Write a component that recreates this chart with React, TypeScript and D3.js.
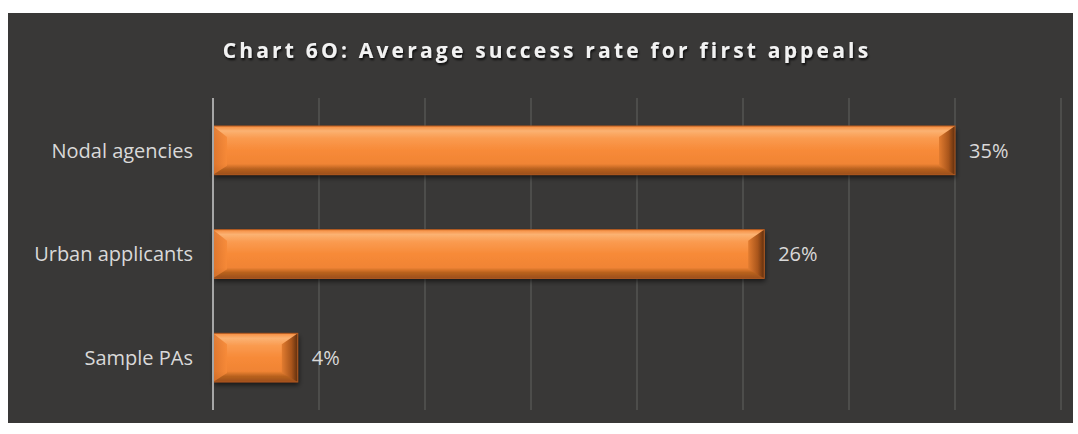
import React from "react";
import * as d3 from "d3";

const categories = ["Nodal agencies", "Urban applicants", "Sample PAs"];
const values = [35, 26, 4];
const tickValues = [0, 5, 10, 15, 20, 25, 30, 35, 40];
const title = "Chart 6O: Average success rate for first appeals";

const W = 1078, H = 434;
const bg = { x: 8, y: 13, w: 1065, h: 410 };
const plot = { left: 213, right: 1061, top: 98, bottom: 410 };
const font = "'Open Sans', sans-serif";

export default function App() {
  const x = d3.scaleLinear().domain([0, 40]).range([plot.left, plot.right]);
  const y = d3.scaleBand<string>().domain(categories).range([plot.top, plot.bottom]).paddingInner(0.53).paddingOuter(0.27);
  const bh = y.bandwidth();
  return (
    <svg width={W} height={H} style={{ position: "absolute", left: 0, top: 0 }}>
      <defs>
        <linearGradient id="face" x1="0" y1="0" x2="0" y2="1">
          <stop offset="0" stopColor="#f68c3e" />
          <stop offset="0.1" stopColor="#fbb272" />
          <stop offset="0.25" stopColor="#fa9b50" />
          <stop offset="0.5" stopColor="#f78a38" />
          <stop offset="0.78" stopColor="#f08434" />
          <stop offset="0.88" stopColor="#b9621f" />
          <stop offset="1" stopColor="#9a4e1a" />
        </linearGradient>
        <linearGradient id="rightBev" x1="0" y1="0" x2="1" y2="0">
          <stop offset="0" stopColor="#e27c30" />
          <stop offset="0.6" stopColor="#a9551b" />
          <stop offset="1" stopColor="#5e2e0e" />
        </linearGradient>
        <linearGradient id="leftBev" x1="0" y1="0" x2="1" y2="0">
          <stop offset="0" stopColor="#d9722c" />
          <stop offset="1" stopColor="#f78a38" />
        </linearGradient>
        <filter id="shadow" x="-10%" y="-30%" width="130%" height="180%">
          <feDropShadow dx="1" dy="3" stdDeviation="2.5" floodColor="#000" floodOpacity="0.6" />
        </filter>
        <filter id="tshadow" x="-5%" y="-50%" width="110%" height="200%">
          <feDropShadow dx="1" dy="2" stdDeviation="1.2" floodColor="#000" floodOpacity="0.8" />
        </filter>
      </defs>
      <rect x={bg.x} y={bg.y} width={bg.w} height={bg.h} fill="#393837" />
      <text x={547} y={58} textAnchor="middle" fill="#f2f2f2" fontFamily={font} fontWeight="bold" fontSize={21} letterSpacing={3.2} filter="url(#tshadow)">{title}</text>
      {tickValues.slice(1).map(t => (
        <line key={t} x1={x(t)} x2={x(t)} y1={plot.top} y2={plot.bottom} stroke="#555453" strokeWidth={1.5} />
      ))}
      {categories.map((c, i) => {
        const x0 = x(0), x1 = x(values[i]);
        const y0 = y(c)!, y1 = y0 + bh;
        const w = x1 - x0;
        const bl = Math.min(14, w / 2);
        const br = Math.min(16, w / 2);
        const bt = 11, bb = 9;
        return (
          <g key={c}>
            <rect x={x0} y={y0} width={w} height={bh} fill="url(#face)" filter="url(#shadow)" />
            <polygon points={`${x0},${y0} ${x0 + bl},${y0 + bt} ${x0 + bl},${y1 - bb} ${x0},${y1}`} fill="url(#leftBev)" opacity={0.85} />
            <polygon points={`${x1},${y0} ${x1 - br},${y0 + bt} ${x1 - br},${y1 - bb} ${x1},${y1}`} fill="url(#rightBev)" />
            <rect x={x0} y={y0} width={w} height={bh} fill="none" stroke="#b35a20" strokeWidth={1} />
            <text x={x1 + 14} y={y0 + bh / 2} dy="0.36em" fill="#d9d9d9" fontFamily={font} fontSize={20}>{values[i]}%</text>
            <text x={193} y={y0 + bh / 2} dy="0.36em" textAnchor="end" fill="#d9d9d9" fontFamily={font} fontSize={20}>{c}</text>
          </g>
        );
      })}
      <line x1={plot.left} x2={plot.left} y1={plot.top} y2={plot.bottom} stroke="#a6a6a6" strokeWidth={2} />
    </svg>
  );
}
